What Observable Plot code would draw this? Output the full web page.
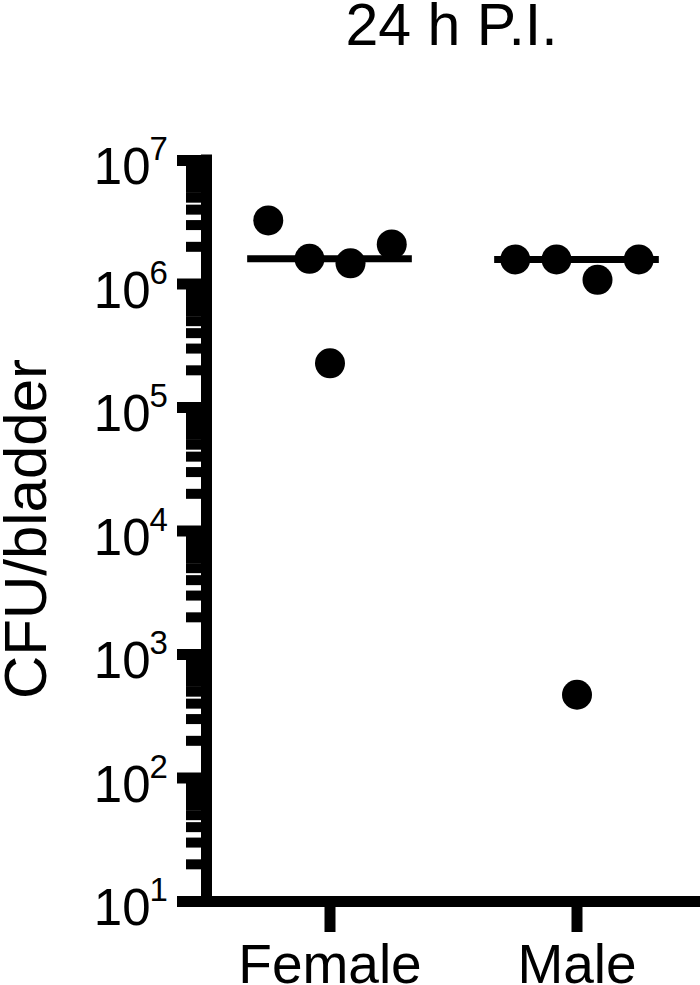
<!DOCTYPE html>
<html>
<head>
<meta charset="utf-8">
<script src="https://cdn.jsdelivr.net/npm/d3@7"></script>
<script src="https://cdn.jsdelivr.net/npm/@observablehq/plot@0.6"></script>
<style>
  html, body { margin: 0; padding: 0; background: white; }
  #title {
    width: 700px; height: 62px; box-sizing: border-box;
    padding-left: 203px; text-align: center;
    font-family: "Liberation Sans", Arial, sans-serif;
    font-size: 59px; line-height: 50px; color: black;
    white-space: nowrap;
  }
</style>
</head>
<body>
<div id="title">24 h P.I.</div>
<div id="chart"></div>
<script>
// ---- data ----
const categories = ["Female", "Male"];
const femaleCFU = [3.27e6, 1.6e6, 1.47e6, 2.09e6, 2.28e5];
const maleCFU = [1.58e6, 1.58e6, 1.08e6, 1.58e6, 472];
// horizontal scatter of the points within each group (in category units)
const femaleJitter = [-0.25, -0.083, 0.083, 0.25, 0];
const maleJitter = [-0.25, -0.083, 0.083, 0.25, 0];
const majorExponents = [1, 2, 3, 4, 5, 6, 7];
const yTitle = "CFU/bladder";

// ---- derived tables ----
const points = [
  ...femaleCFU.map((v, i) => ({group: 0, off: femaleJitter[i], v})),
  ...maleCFU.map((v, i) => ({group: 1, off: maleJitter[i], v}))
];
const medians = [
  {group: 0, m: d3.median(femaleCFU)},
  {group: 1, m: d3.median(maleCFU)}
];
const minorTicks = [];
for (let e = 1; e < 7; e++) for (let k = 2; k <= 9; k++) minorTicks.push(k * 10 ** e);
const majorTicks = majorExponents.map(e => 10 ** e);

const font = "'Liberation Sans', Arial, sans-serif";

const chart = Plot.plot({
  width: 700,
  height: 923,
  marginTop: 98,
  marginBottom: 84,
  marginLeft: 206,
  marginRight: 0,
  style: {fontFamily: font, color: "black", background: "white", overflow: "visible"},
  x: {type: "linear", domain: [-0.5, 1.5]},
  y: {type: "log", domain: [10, 1e7]},
  marks: [
    // minor ticks
    Plot.axisY({ticks: minorTicks, tickSize: 20, strokeWidth: 10, tickFormat: () => "", label: null}),
    // major ticks
    Plot.axisY({ticks: majorTicks, tickSize: 29, strokeWidth: 11, tickFormat: () => "", label: null}),
    // axis lines
    Plot.ruleX([-0.5], {y1: 10, y2: 1e7, strokeWidth: 11, strokeLinecap: "square"}),
    Plot.ruleY([10], {x1: -0.5, x2: 1.5, strokeWidth: 11}),
    // x axis with category labels
    Plot.axisX({
      ticks: [0, 1], tickFormat: i => categories[i], tickSize: 31, tickPadding: 11,
      strokeWidth: 11, fontSize: 55, label: null
    }),
    // y tick labels "10" + superscript exponent
    Plot.text(majorExponents, {
      y: e => 10 ** e, text: () => "10", frameAnchor: "left",
      textAnchor: "end", dx: -56, dy: 7.2, fontSize: 51
    }),
    Plot.text(majorExponents, {
      y: e => 10 ** e, text: e => String(e), frameAnchor: "left",
      textAnchor: "start", dx: -57, dy: -11, fontSize: 33
    }),
    // y axis title
    Plot.text([yTitle], {
      frameAnchor: "left", rotate: -90, textAnchor: "middle",
      dx: -180, dy: -2, fontSize: 60
    }),
    // median lines
    Plot.ruleY(medians, {y: "m", x1: d => d.group - 1 / 3, x2: d => d.group + 1 / 3, strokeWidth: 7}),
    // data points
    Plot.dot(points, {x: d => d.group + d.off, y: "v", r: 15, fill: "black", stroke: null})
  ]
});
document.getElementById("chart").appendChild(chart);
</script>
</body>
</html>
